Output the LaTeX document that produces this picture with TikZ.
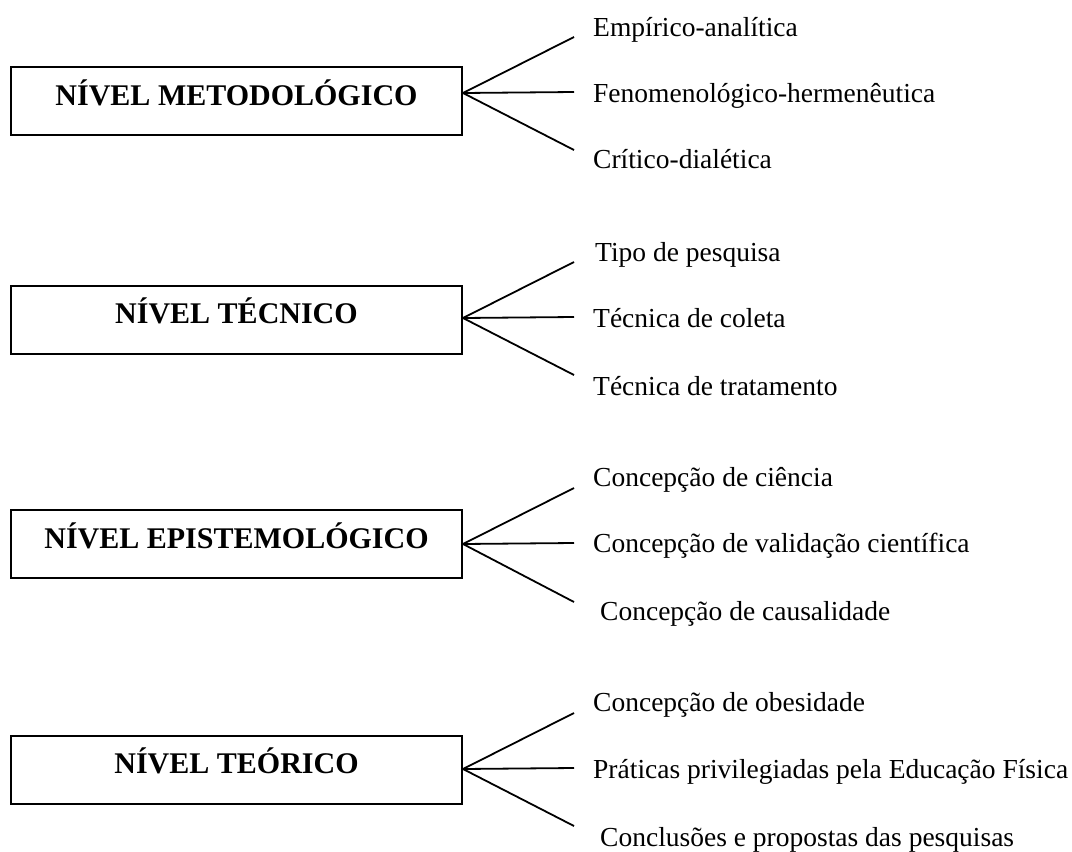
\documentclass[tikz,border=0pt]{standalone}
\usepackage{fontspec}
\setmainfont{Liberation Serif}
\begin{document}
\begin{tikzpicture}[x=1pt,y=-1pt,
  level/.style={draw, line width=2pt, minimum width=451pt, minimum height=68pt,
    inner sep=0pt, font=\fontsize{30}{36}\selectfont\bfseries,
    text height=20pt, text depth=12pt},
  item/.style={anchor=base west, inner sep=0pt, font=\fontsize{27.5}{33}\selectfont},
  branch/.style={line width=1.8pt}]
\useasboundingbox (0,0) rectangle (1072,852);

% boxes
\node[level] (b1) at (236.5,101)   {NÍVEL METODOLÓGICO};
\node[level] (b2) at (236.5,319.5) {NÍVEL TÉCNICO};
\node[level] (b3) at (236.5,544)   {NÍVEL EPISTEMOLÓGICO};
\node[level] (b4) at (236.5,769.5) {NÍVEL TEÓRICO};

% labels
\node[item] (l1a) at (593,36)  {Empírico-analítica};
\node[item] (l1b) at (593,102) {Fenomenológico-hermenêutica};
\node[item] (l1c) at (593,168) {Crítico-dialética};

\node[item] (l2a) at (595,261) {Tipo de pesquisa};
\node[item] (l2b) at (593,327) {Técnica de coleta};
\node[item] (l2c) at (593,395) {Técnica de tratamento};

\node[item] (l3a) at (593,486) {Concepção de ciência};
\node[item] (l3b) at (593,552) {Concepção de validação científica};
\node[item] (l3c) at (600,620) {Concepção de causalidade};

\node[item] (l4a) at (593,711) {Concepção de obesidade};
\node[item] (l4b) at (593,778) {Práticas privilegiadas pela Educação Física};
\node[item] (l4c) at (600,846) {Conclusões e propostas das pesquisas};

% apex points on the boxes' right sides
\coordinate (a1) at (b1.east |- 0,93);
\coordinate (a2) at (b2.east |- 0,318);
\coordinate (a3) at (b3.east |- 0,544);
\coordinate (a4) at (b4.east |- 0,769);

% free ends of the branches
\coordinate (e1a) at (574,37);  \coordinate (e1b) at (574,92);  \coordinate (e1c) at (574,150);
\coordinate (e2a) at (574,262); \coordinate (e2b) at (574,317); \coordinate (e2c) at (574,375);
\coordinate (e3a) at (574,488); \coordinate (e3b) at (574,543); \coordinate (e3c) at (574,602);
\coordinate (e4a) at (574,713); \coordinate (e4b) at (574,768); \coordinate (e4c) at (574,826);

\foreach \i in {1,2,3,4}{
  \foreach \j in {a,b,c}{
    \draw[branch] (a\i) -- (e\i\j);
  }
}
\end{tikzpicture}
\end{document}
